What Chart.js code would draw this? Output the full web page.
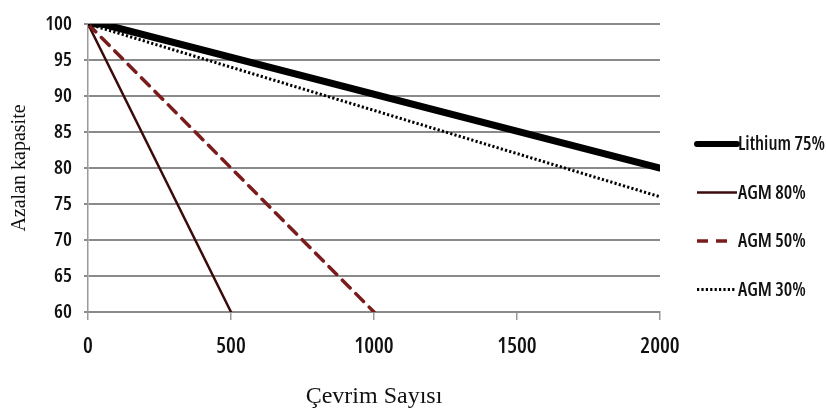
<!DOCTYPE html>
<html>
<head>
<meta charset="utf-8">
<script src="https://cdn.jsdelivr.net/npm/chart.js@4/dist/chart.umd.min.js"></script>
<style>
  html, body { margin: 0; padding: 0; background: #fff; }
  canvas { display: block; }
</style>
</head>
<body>
<canvas id="c" width="826" height="411"></canvas>
<script>
// Capacity fade vs. cycle count for each battery / depth-of-discharge
const seriesLabels = ['Lithium 75%', 'AGM 80%', 'AGM 50%', 'AGM 30%'];

const lithium75Cycles = [0, 50, 2000];
const lithium75Capacity = [100, 100, 80];

const agm80Cycles = [0, 500];
const agm80Capacity = [100, 60];

const agm50Cycles = [0, 1000];
const agm50Capacity = [100, 60];

const agm30Cycles = [0, 2000];
const agm30Capacity = [100, 76];

const xTicks = [0, 500, 1000, 1500, 2000];
const yTicks = [60, 65, 70, 75, 80, 85, 90, 95, 100];

const xTitle = 'Çevrim Sayısı';
const yTitle = 'Azalan kapasite';

const toPoints = (xs, ys) => xs.map((x, i) => ({ x: x, y: ys[i] }));

const styles = [
  { color: '#000000', width: 7, dash: [], sample: 40 },
  { color: '#3b0b0b', width: 2.5, dash: [], sample: 40 },
  { color: '#7a1c1c', width: 3.5, dash: [11, 8], sample: 30 },
  { color: '#000000', width: 3, dash: [2.2, 2.2], sample: 38 }
];

const seriesData = [
  toPoints(lithium75Cycles, lithium75Capacity),
  toPoints(agm80Cycles, agm80Capacity),
  toPoints(agm50Cycles, agm50Capacity),
  toPoints(agm30Cycles, agm30Capacity)
];

// Draw order: thin lines first, heavy lithium line on top
const drawOrder = [3, 2, 1, 0];

const datasets = seriesLabels.map((label, i) => ({
  label: label,
  data: seriesData[i],
  borderColor: styles[i].color,
  backgroundColor: styles[i].color,
  borderWidth: styles[i].width,
  borderDash: styles[i].dash,
  borderCapStyle: i === 3 ? 'butt' : 'round',
  pointRadius: 0,
  tension: 0,
  order: drawOrder[i]
}));

const narrowFamily = '"Open Sans", "DejaVu Sans Condensed", "DejaVu Sans", sans-serif';

// Legend to the right of the plot, one row per series
const sideLegend = {
  id: 'sideLegend',
  afterDraw(chart) {
    const ctx = chart.ctx;
    const area = chart.chartArea;
    const x0 = area.right + 37;
    const yStart = area.top + 120;
    const step = 48.5;
    ctx.save();
    chart.data.datasets.forEach((ds, i) => {
      const y = yStart + i * step;
      const st = styles[i];
      ctx.beginPath();
      ctx.strokeStyle = st.color;
      ctx.lineWidth = i === 0 ? 6 : st.width;
      ctx.setLineDash(st.dash);
      ctx.lineCap = i === 0 ? 'round' : 'butt';
      ctx.moveTo(x0, y);
      ctx.lineTo(x0 + st.sample, y);
      ctx.stroke();
      ctx.setLineDash([]);
      ctx.fillStyle = '#111';
      ctx.font = 'condensed 600 19px ' + narrowFamily;
      ctx.textAlign = 'left';
      ctx.textBaseline = 'middle';
      ctx.fillText(ds.label, x0 + 41, y + 1);
    });
    ctx.restore();
  }
};

// Chart.js only validates `style`, so the width keyword rides along with the weight
const tickFontY = { family: narrowFamily, size: 20, weight: '600 condensed' };
const tickFontX = { family: narrowFamily, size: 22, weight: '600 condensed' };
const xTitleFont = { family: '"Liberation Serif", "DejaVu Serif", serif', size: 24 };
const yTitleFont = { family: '"Liberation Serif", "DejaVu Serif", serif', size: 20 };

new Chart(document.getElementById('c'), {
  type: 'line',
  data: { datasets: datasets },
  options: {
    responsive: false,
    animation: false,
    layout: { padding: { top: 22, right: 166, bottom: 0, left: 0 } },
    plugins: {
      legend: { display: false },
      tooltip: { enabled: false }
    },
    scales: {
      x: {
        type: 'linear',
        min: xTicks[0],
        max: xTicks[xTicks.length - 1],
        afterBuildTicks: s => { s.ticks = xTicks.map(v => ({ value: v })); },
        afterFit: s => { s.height = 99; },
        border: { display: true, color: '#8a8a8a', width: 2 },
        grid: { drawOnChartArea: false, drawTicks: true, tickLength: 8, color: '#9a9a9a', lineWidth: 1.5 },
        ticks: { color: '#111', font: tickFontX, padding: 14, maxRotation: 0, callback: v => String(v) },
        title: { display: true, text: xTitle, color: '#111', font: xTitleFont, padding: { top: 0, bottom: 0 } }
      },
      y: {
        type: 'linear',
        min: yTicks[0],
        max: yTicks[yTicks.length - 1],
        afterBuildTicks: s => { s.ticks = yTicks.map(v => ({ value: v })); },
        afterFit: s => { s.width = 88; },
        border: { display: true, color: '#9a9a9a', width: 1.5 },
        grid: { drawOnChartArea: true, drawTicks: true, tickLength: 4, color: '#8a8a8a', lineWidth: 2 },
        ticks: { color: '#111', font: tickFontY, padding: 12, callback: v => String(v) },
        title: { display: true, text: yTitle, color: '#111', font: yTitleFont, padding: { top: 8, bottom: 0 } }
      }
    }
  },
  plugins: [sideLegend]
});
</script>
</body>
</html>
